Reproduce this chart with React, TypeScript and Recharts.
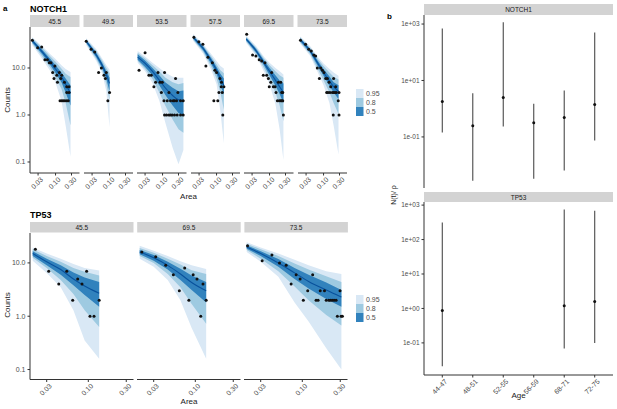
import React from "react";
import { ComposedChart, Area, Line, Scatter, XAxis, YAxis, ErrorBar } from "recharts";

// ribbon rows: [area, median, lo50, hi50, lo80, hi80, lo95, hi95]
type Row = number[];
type Pt = [number, number];

const notch455Band: Row[] = [
  [0.02, 38, 35, 41, 33, 43, 31, 45],
  [0.04, 22, 19.5, 24.5, 17.5, 27, 15.5, 29],
  [0.07, 13.5, 11.5, 15.5, 10, 17.5, 8.5, 19.5],
  [0.1, 9.5, 7.8, 11.5, 6.2, 13.5, 4.8, 15.5],
  [0.15, 6.5, 5, 8, 3.6, 9.8, 2, 11.5],
  [0.2, 4.5, 3, 6, 1.8, 7.5, 0.6, 9.5],
  [0.28, 2.9, 1.6, 4.3, 0.6, 6.4, 0.13, 8.2],
];
const notch455Pts: Pt[] = [
  [0.0202, 39], [0.0291, 27], [0.0384, 28], [0.048, 15], [0.057, 15], [0.065, 13], [0.073, 13],
  [0.096, 11], [0.082, 8], [0.09, 6], [0.109, 7], [0.114, 5], [0.13, 8], [0.153, 7], [0.143, 6],
  [0.184, 5], [0.216, 4], [0.253, 4], [0.216, 3], [0.253, 3], [0.136, 2], [0.153, 2], [0.17, 2],
  [0.19, 2], [0.216, 2], [0.24, 2],
];

const notch495Band: Row[] = [
  [0.02, 37, 34.5, 39.5, 33, 41, 31, 43],
  [0.04, 19, 17, 21, 15.5, 23, 14, 25],
  [0.06, 11.5, 10, 13, 9, 14.5, 7.8, 16],
  [0.08, 7.2, 5.8, 8.6, 4.6, 10, 3.2, 11.5],
  [0.1, 4.7, 3.2, 6.2, 2, 7.8, 0.55, 9.2],
];
const notch495Pts: Pt[] = [
  [0.02, 37], [0.028, 25], [0.036, 22], [0.047, 8], [0.057, 10], [0.068, 7], [0.075, 6],
  [0.08, 8], [0.1, 3], [0.089, 2],
];

const notch535Band: Row[] = [
  [0.018, 17, 15, 19.5, 14, 21, 13, 23],
  [0.03, 12.5, 10.5, 14.5, 9.5, 16, 8.5, 17.5],
  [0.05, 8.5, 7, 10, 5.8, 11.5, 4.8, 13],
  [0.08, 5.5, 4.3, 7, 3, 8.5, 2, 10],
  [0.12, 3.8, 2.7, 5, 1.6, 6.3, 0.7, 8],
  [0.2, 2.6, 1.6, 3.8, 0.8, 5, 0.2, 6.5],
  [0.3, 2.1, 1.1, 3.2, 0.5, 4.5, 0.09, 6.2],
  [0.42, 2.0, 0.95, 3.3, 0.42, 4.8, 0.18, 6.2],
];
const notch535Pts: Pt[] = [
  [0.0198, 9], [0.03, 21], [0.039, 7], [0.046, 7], [0.055, 4], [0.062, 5], [0.073, 8], [0.084, 5],
  [0.092, 3], [0.098, 5], [0.11, 2], [0.115, 8], [0.138, 2], [0.155, 3], [0.173, 2], [0.208, 2],
  [0.228, 2], [0.245, 6], [0.262, 2], [0.287, 3], [0.345, 2], [0.414, 2], [0.115, 1], [0.132, 1],
  [0.155, 1], [0.173, 1], [0.194, 1], [0.228, 1], [0.274, 1], [0.345, 1], [0.414, 1],
];

const notch575Band: Row[] = [
  [0.02, 45, 42, 48, 40, 50, 38, 53],
  [0.04, 26, 23.5, 28.5, 22, 30, 20, 32],
  [0.07, 14, 12, 16, 10.5, 17.5, 9, 19.5],
  [0.1, 9, 7.5, 10.5, 6, 12, 4.5, 14],
  [0.13, 6, 4.5, 7.5, 3, 9, 1.2, 11],
  [0.165, 4.3, 2.7, 6, 1.3, 7.7, 0.25, 9.8],
];
const notch575Pts: Pt[] = [
  [0.021, 45], [0.0295, 36], [0.039, 32], [0.048, 11], [0.055, 17], [0.075, 13], [0.089, 9],
  [0.1, 8], [0.118, 3], [0.126, 6], [0.138, 4], [0.148, 3], [0.166, 4], [0.083, 2], [0.109, 2],
  [0.154, 1], [0.14, 5],
];

const notch695Band: Row[] = [
  [0.02, 41, 38.5, 44, 36.5, 46, 34.5, 49],
  [0.04, 23, 21, 25.5, 19.5, 27, 18, 29],
  [0.07, 12.5, 11, 14, 9.5, 15.5, 8, 17],
  [0.1, 8.5, 7, 10, 5.8, 11.5, 4.5, 13],
  [0.15, 5.5, 4.2, 7, 3, 8.5, 1.7, 10],
  [0.2, 4, 2.8, 5.4, 1.6, 7, 0.5, 8.5],
  [0.26, 3, 1.8, 4.7, 0.74, 6.2, 0.11, 7.3],
];
const notch695Pts: Pt[] = [
  [0.0207, 52], [0.031, 19], [0.039, 18], [0.049, 15], [0.058, 14], [0.073, 13], [0.065, 7],
  [0.082, 7], [0.092, 6], [0.109, 5], [0.098, 4], [0.116, 8], [0.13, 4], [0.146, 4], [0.184, 5],
  [0.216, 5], [0.156, 3], [0.171, 2], [0.196, 2], [0.216, 2], [0.231, 2], [0.248, 2], [0.231, 3],
  [0.248, 3], [0.259, 1],
];

const notch735Band: Row[] = [
  [0.02, 40, 37, 43, 35, 45, 33, 47],
  [0.04, 23, 21, 25, 19.5, 27, 18, 29],
  [0.07, 12, 10.5, 13.5, 9, 15, 7.5, 16.5],
  [0.1, 8, 6.8, 9.5, 5.5, 11, 4.3, 12.5],
  [0.15, 5.3, 4.2, 6.6, 3, 8, 1.8, 9.5],
  [0.2, 4, 3, 5, 1.8, 6.5, 0.6, 8],
  [0.28, 3.2, 2.2, 4.3, 1.05, 5.7, 0.145, 6.8],
];
const notch735Pts: Pt[] = [
  [0.0204, 39], [0.029, 32], [0.036, 25], [0.043, 23], [0.051, 19], [0.058, 18], [0.065, 10],
  [0.075, 6], [0.082, 10], [0.092, 9], [0.103, 8], [0.116, 6], [0.13, 6], [0.146, 5], [0.164, 4],
  [0.124, 3], [0.136, 3], [0.155, 3], [0.183, 3], [0.2, 3], [0.22, 3], [0.24, 3], [0.2, 6],
  [0.23, 4], [0.275, 2], [0.29, 3], [0.195, 1], [0.29, 1],
];

const tp455Band: Row[] = [
  [0.02, 15, 13.5, 16.5, 12.5, 18, 11, 19.5],
  [0.03, 10.5, 9, 12, 8, 13.5, 6.5, 15],
  [0.045, 7.5, 6, 9, 4.8, 10.5, 3.5, 12],
  [0.065, 5, 3.8, 6.6, 2.6, 8, 1.3, 9.5],
  [0.09, 3.7, 2.5, 5.3, 1.3, 6.8, 0.35, 8],
  [0.137, 2.7, 1.5, 4.4, 0.63, 5.8, 0.16, 7.2],
];
const tp455Pts: Pt[] = [
  [0.0216, 18], [0.0318, 7], [0.0425, 4], [0.0536, 7], [0.0637, 2], [0.0736, 5], [0.0833, 4],
  [0.0953, 7], [0.105, 1], [0.118, 1], [0.137, 2],
];

const tp695Band: Row[] = [
  [0.02, 16, 14.5, 17.5, 13.5, 19, 12, 21],
  [0.03, 12.5, 11, 14, 10, 15.5, 8.5, 17],
  [0.045, 9, 7.5, 10.5, 6.2, 12, 4.8, 13.5],
  [0.065, 6.2, 4.8, 7.8, 3.5, 9.3, 2, 10.8],
  [0.09, 4.3, 3.1, 5.8, 1.7, 7.3, 0.6, 9],
  [0.137, 3.0, 1.8, 4.4, 0.72, 6.2, 0.16, 7.7],
];
const tp695Pts: Pt[] = [
  [0.0213, 16], [0.0318, 13], [0.0425, 9], [0.053, 6], [0.0736, 8], [0.063, 3], [0.083, 2],
  [0.094, 6], [0.105, 5], [0.125, 4], [0.137, 2], [0.117, 1],
];

const tp735Band: Row[] = [
  [0.02, 20, 18.5, 21.5, 17.5, 23, 16, 24.5],
  [0.03, 15, 13.5, 16.5, 12, 18, 10.5, 19.5],
  [0.05, 10, 8.5, 11.8, 7, 13.5, 5.5, 15],
  [0.08, 6.5, 5, 8, 3.6, 9.8, 1.8, 11.5],
  [0.12, 4.5, 3.3, 6, 2, 7.5, 0.8, 9],
  [0.2, 3.1, 2.1, 4.3, 1.05, 5.6, 0.25, 7],
  [0.31, 2.3, 1.5, 3.1, 0.67, 4.4, 0.1, 6.2],
];
const tp735Pts: Pt[] = [
  [0.0205, 21], [0.0313, 11], [0.0415, 14], [0.0517, 10], [0.0627, 9], [0.0724, 4], [0.0837, 6],
  [0.0939, 5], [0.103, 2], [0.117, 3], [0.135, 6], [0.149, 2], [0.158, 2], [0.168, 3], [0.19, 3],
  [0.2, 2], [0.215, 2], [0.224, 2], [0.237, 2], [0.251, 2], [0.266, 2], [0.298, 3], [0.276, 1],
  [0.307, 1], [0.319, 1],
];

const notchFacets = [
  { label: "45.5", band: notch455Band, pts: notch455Pts },
  { label: "49.5", band: notch495Band, pts: notch495Pts },
  { label: "53.5", band: notch535Band, pts: notch535Pts },
  { label: "57.5", band: notch575Band, pts: notch575Pts },
  { label: "69.5", band: notch695Band, pts: notch695Pts },
  { label: "73.5", band: notch735Band, pts: notch735Pts },
];
const tpFacets = [
  { label: "45.5", band: tp455Band, pts: tp455Pts },
  { label: "69.5", band: tp695Band, pts: tp695Pts },
  { label: "73.5", band: tp735Band, pts: tp735Pts },
];

const areaTicks = [0.03, 0.1, 0.3];
const countTicks = [0.1, 1, 10];
const legendLevels = ["0.95", "0.8", "0.5"];

// panel b
const ageGroups = ["44-47", "48-51", "52-55", "56-59", "68-71", "72-75"];
const notchMid = [1.8, 0.25, 2.5, 0.32, 0.49, 1.4];
const notchLo = [0.144, 0.0028, 0.234, 0.0033, 0.0065, 0.074];
const notchHi = [700, 3.5, 1150, 1.5, 4.4, 500];
const tpMid = [0.87, null, null, null, 1.2, 1.6];
const tpLo = [0.021, null, null, null, 0.069, 0.1];
const tpHi = [310, null, null, null, 740, 690];
const rateTicksTop = [0.1, 10, 1000];
const rateTicksBottom = [0.1, 1, 10, 100, 1000];

const BLUE95 = "#d9e8f5";
const BLUE80 = "#9ecae1";
const BLUE50 = "#3182bd";
const MEDIAN = "#08519c";
const AXIS = "#333333";
const TICK = "#4d4d4d";
const STRIP = "#d3d3d3";

const fmtArea = (v: number) => v.toFixed(2);
const fmtExp = (v: number) => {
  const e = Math.round(Math.log10(v));
  return `1e${e < 0 ? "-" : "+"}${String(Math.abs(e)).padStart(2, "0")}`;
};

const rotTick = (fmt: (v: any) => string) => (p: any) => (
  <g transform={`translate(${p.x + 2},${p.y})`}>
    <text transform="rotate(-45)" textAnchor="end" fontSize={7} fill={TICK} dy="0.7em">
      {fmt(p.payload.value)}
    </text>
  </g>
);

const dotShape = (p: any) => <circle cx={p.cx} cy={p.cy} r={1.5} fill="#111" />;

function Facet(props: {
  left: number; top: number; w: number; h: number;
  xDomain: [number, number]; yDomain: [number, number];
  band: Row[]; pts: Pt[]; showY: boolean;
}) {
  const yw = props.showY ? 30 : 0;
  const data = props.band.map((r) => ({
    x: r[0], med: r[1], b50: [r[2], r[3]], b80: [r[4], r[5]], b95: [r[6], r[7]],
  }));
  const dots = props.pts.map((p) => ({ x: p[0], y: p[1] }));
  return (
    <div style={{ position: "absolute", left: props.left - yw, top: props.top }}>
      <ComposedChart width={props.w + yw} height={props.h + 26} data={data}
        margin={{ top: 0, right: 0, bottom: 0, left: 0 }}>
        <XAxis dataKey="x" type="number" scale="log" domain={props.xDomain} allowDataOverflow
          ticks={areaTicks} interval={0} height={26} tickSize={2.5} tickMargin={1}
          axisLine={{ stroke: AXIS }} tickLine={{ stroke: AXIS }} tick={rotTick(fmtArea)} />
        <YAxis type="number" scale="log" domain={props.yDomain} allowDataOverflow ticks={countTicks}
          interval={0} width={yw} hide={!props.showY} tickSize={2.5} tickMargin={2}
          axisLine={{ stroke: AXIS }} tickLine={{ stroke: AXIS }}
          tick={{ fontSize: 7, fill: TICK }} tickFormatter={(v: number) => v.toFixed(1)} />
        <Area type="linear" dataKey="b95" stroke="none" fill={BLUE95} fillOpacity={1} isAnimationActive={false} />
        <Area type="linear" dataKey="b80" stroke="none" fill={BLUE80} fillOpacity={1} isAnimationActive={false} />
        <Area type="linear" dataKey="b50" stroke="none" fill={BLUE50} fillOpacity={1} isAnimationActive={false} />
        <Line type="monotone" dataKey="med" stroke={MEDIAN} strokeWidth={1.1} dot={false} isAnimationActive={false} />
        <Scatter data={dots} dataKey="y" shape={dotShape} isAnimationActive={false} />
      </ComposedChart>
    </div>
  );
}

function RatePanel(props: {
  top: number; h: number; mid: (number | null)[]; lo: (number | null)[]; hi: (number | null)[];
  yDomain: [number, number]; yTicks: number[]; showX: boolean;
}) {
  const yw = 32;
  const rows = ageGroups
    .map((_, i) => ({ i, y: props.mid[i], lo: props.lo[i], hi: props.hi[i] }))
    .filter((r) => r.y != null)
    .map((r) => ({ i: r.i, y: r.y as number, err: [(r.y as number) - (r.lo as number), (r.hi as number) - (r.y as number)] }));
  return (
    <div style={{ position: "absolute", left: 424 - yw, top: props.top }}>
      <ComposedChart width={189 + yw} height={props.h + (props.showX ? 26 : 0)} data={rows}
        margin={{ top: 0, right: 0, bottom: 0, left: 0 }}>
        <XAxis dataKey="i" type="number" domain={[-0.6, 5.6]} ticks={[0, 1, 2, 3, 4, 5]} interval={0}
          hide={!props.showX} height={26} tickSize={2.5} tickMargin={1}
          axisLine={{ stroke: AXIS }} tickLine={{ stroke: AXIS }}
          tick={rotTick((v: number) => ageGroups[v])} />
        <YAxis type="number" scale="log" domain={props.yDomain} allowDataOverflow ticks={props.yTicks}
          interval={0} width={yw} tickSize={2.5} tickMargin={2}
          axisLine={{ stroke: AXIS }} tickLine={{ stroke: AXIS }}
          tick={{ fontSize: 6.5, fill: TICK }} tickFormatter={fmtExp} />
        <Scatter dataKey="y" shape={dotShape} isAnimationActive={false}>
          <ErrorBar dataKey="err" direction="y" width={0} stroke="#4a4a4a" strokeWidth={1.1} isAnimationActive={false} />
        </Scatter>
      </ComposedChart>
    </div>
  );
}

const topL = (i: number) => 30 + i * 53.5;
const botL = (i: number) => 30 + i * 107.2;

export default function App() {
  return (
    <div style={{ position: "absolute", left: 0, top: 0, width: 617, height: 409, background: "#fff",
      fontFamily: "'Liberation Sans', Arial, sans-serif", overflow: "hidden" }}>
      <svg width={617} height={409} style={{ position: "absolute", left: 0, top: 0 }}>
        <text x={3} y={11} fontSize={8} fontWeight="bold">a</text>
        <text x={30} y={11.5} fontSize={9} fontWeight="bold">NOTCH1</text>
        <text x={30} y={218} fontSize={9} fontWeight="bold">TP53</text>
        <text x={387} y={19} fontSize={8} fontWeight="bold">b</text>
        {notchFacets.map((f, i) => (
          <g key={f.label}>
            <rect x={topL(i)} y={15} width={49.5} height={12} fill={STRIP} />
            <text x={topL(i) + 24.75} y={23.5} fontSize={6.5} textAnchor="middle" fill="#1a1a1a">{f.label}</text>
          </g>
        ))}
        {tpFacets.map((f, i) => (
          <g key={f.label}>
            <rect x={botL(i)} y={222} width={103.5} height={10.5} fill={STRIP} />
            <text x={botL(i) + 51.75} y={229.8} fontSize={6.5} textAnchor="middle" fill="#1a1a1a">{f.label}</text>
          </g>
        ))}
        <text transform="translate(10,100) rotate(-90)" fontSize={8} textAnchor="middle" fill="#1a1a1a">Counts</text>
        <text transform="translate(10,305) rotate(-90)" fontSize={8} textAnchor="middle" fill="#1a1a1a">Counts</text>
        <text x={188.5} y={199} fontSize={8} textAnchor="middle" fill="#1a1a1a">Area</text>
        <text x={189} y={404} fontSize={8} textAnchor="middle" fill="#1a1a1a">Area</text>
        {[89, 295].map((y0) => (
          <g key={y0}>
            {legendLevels.map((lv, k) => (
              <g key={lv}>
                <rect x={356} y={y0 + k * 9} width={7.5} height={9} fill={[BLUE95, BLUE80, BLUE50][k]} />
                <text x={366} y={y0 + k * 9 + 7} fontSize={7} fill={TICK}>{lv}</text>
              </g>
            ))}
          </g>
        ))}
        <rect x={424} y={4} width={189} height={11} fill={STRIP} />
        <text x={518.5} y={11.8} fontSize={6.5} textAnchor="middle" fill="#1a1a1a">NOTCH1</text>
        <rect x={424} y={192} width={189} height={10} fill={STRIP} />
        <text x={518.5} y={199.5} fontSize={6.5} textAnchor="middle" fill="#1a1a1a">TP53</text>
        <text transform="translate(396,195) rotate(-90)" fontSize={7} textAnchor="middle" fill="#1a1a1a">N(t)/ ρ</text>
        <text x={518.5} y={398} fontSize={8} textAnchor="middle" fill="#1a1a1a">Age</text>
      </svg>
      {notchFacets.map((f, i) => (
        <Facet key={"n" + f.label} left={topL(i)} top={27} w={49.5} h={146}
          xDomain={[0.0172, 0.52]} yDomain={[0.0583, 74.5]} band={f.band} pts={f.pts} showY={i === 0} />
      ))}
      {tpFacets.map((f, i) => (
        <Facet key={"t" + f.label} left={botL(i)} top={232.5} w={103.5} h={146.5}
          xDomain={[0.0185, 0.37]} yDomain={[0.065, 36.4]} band={f.band} pts={f.pts} showY={i === 0} />
      ))}
      <RatePanel top={15} h={173} mid={notchMid} lo={notchLo} hi={notchHi}
        yDomain={[0.00155, 2090]} yTicks={rateTicksTop} showX={false} />
      <RatePanel top={202} h={173} mid={tpMid} lo={tpLo} hi={tpHi}
        yDomain={[0.0117, 1230]} yTicks={rateTicksBottom} showX={true} />
    </div>
  );
}
